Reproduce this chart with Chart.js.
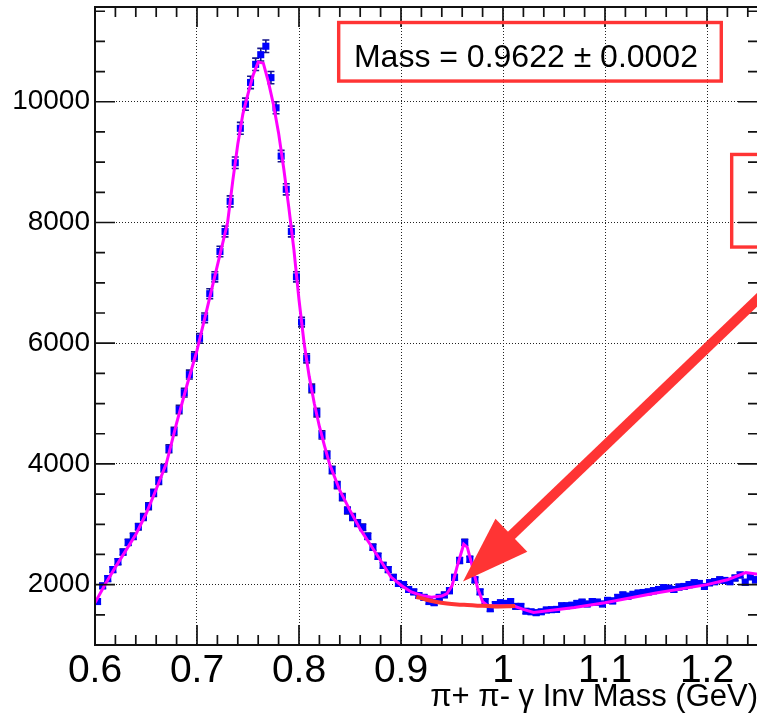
<!DOCTYPE html>
<html>
<head>
<meta charset="utf-8">
<script src="https://cdn.jsdelivr.net/npm/chart.js@4.4.1/dist/chart.umd.min.js"></script>
<style>
  html, body { margin:0; padding:0; overflow:hidden; background:#fff; }
  #wrap { width:770px; height:721px; }
</style>
</head>
<body>
<div id="wrap"><canvas id="c" width="770" height="721"></canvas></div>
<script>
// ---- data: invariant-mass histogram (bin centres, counts, errors) ----
const binCenters = [
  0.6025,0.6075,0.6125,0.6175,0.6225,0.6275,0.6325,0.6375,0.6425,0.6475,
  0.6525,0.6575,0.6625,0.6675,0.6725,0.6775,0.6825,0.6875,0.6925,0.6975,
  0.7025,0.7075,0.7125,0.7175,0.7225,0.7275,0.7325,0.7375,0.7425,0.7475,
  0.7525,0.7575,0.7625,0.7675,0.7725,0.7775,0.7825,0.7875,0.7925,0.7975,
  0.8025,0.8075,0.8125,0.8175,0.8225,0.8275,0.8325,0.8375,0.8425,0.8475,
  0.8525,0.8575,0.8625,0.8675,0.8725,0.8775,0.8825,0.8875,0.8925,0.8975,
  0.9025,0.9075,0.9125,0.9175,0.9225,0.9275,0.9325,0.9375,0.9425,0.9475,
  0.9525,0.9575,0.9625,0.9675,0.9725,0.9775,0.9825,0.9875,0.9925,0.9975,
  1.0025,1.0075,1.0125,1.0175,1.0225,1.0275,1.0325,1.0375,1.0425,1.0475,
  1.0525,1.0575,1.0625,1.0675,1.0725,1.0775,1.0825,1.0875,1.0925,1.0975,
  1.1025,1.1075,1.1125,1.1175,1.1225,1.1275,1.1325,1.1375,1.1425,1.1475,
  1.1525,1.1575,1.1625,1.1675,1.1725,1.1775,1.1825,1.1875,1.1925,1.1975,
  1.2025,1.2075,1.2125,1.2175,1.2225,1.2275,1.2325,1.2375,1.2425,1.2475
];
const counts = [
  1720,1980,2100,2250,2380,2540,2700,2800,2960,3120,
  3300,3520,3720,3930,4250,4540,4900,5180,5480,5780,
  6080,6420,6820,7100,7520,7850,8350,8990,9560,9960,
  10320,10620,10780,10920,10400,9900,9100,8550,7850,7100,
  6350,5750,5250,4850,4480,4150,3900,3650,3450,3230,
  3120,3020,2950,2800,2620,2470,2320,2250,2120,2020,
  2000,1920,1880,1820,1790,1720,1700,1790,1830,1900,
  2120,2400,2700,2420,2080,1880,1720,1600,1670,1700,
  1690,1720,1640,1640,1560,1550,1535,1550,1580,1585,
  1590,1650,1650,1660,1690,1710,1680,1720,1710,1680,
  1740,1730,1790,1830,1810,1840,1860,1870,1880,1900,
  1920,1950,1940,1920,1960,1970,2000,2030,2020,1970,
  2030,2050,2080,2070,2050,2110,2160,2040,2130,2080
];
const errors = [
  41,44,46,47,49,50,52,53,54,56,
  57,59,61,63,65,67,70,72,74,76,
  78,80,83,84,87,89,91,95,98,100,
  102,103,104,104,102,99,95,92,89,84,
  80,76,72,70,67,64,62,60,59,57,
  56,55,54,53,51,50,48,47,46,45,
  45,44,43,43,42,41,41,42,43,44,
  46,49,52,49,46,43,41,40,41,41,
  41,41,40,40,39,39,39,39,40,40,
  40,41,41,41,41,41,41,41,41,41,
  42,42,42,43,43,43,43,43,43,44,
  44,44,44,44,44,44,45,45,45,44,
  45,45,46,45,45,46,46,45,46,46
];
// ---- total fit (magenta) ----
const fitMass = [0.600,0.610,0.620,0.630,0.640,0.650,0.660,0.670,0.680,0.690,0.700,0.710,0.720,0.730,
  0.735,0.740,0.745,0.750,0.755,0.760,0.765,0.770,0.775,0.780,0.785,0.790,0.795,0.800,0.805,0.810,0.815,0.820,0.825,0.830,
  0.840,0.850,0.860,0.870,0.880,0.890,0.900,0.910,0.920,0.930,0.940,
  0.945,0.950,0.955,0.9615,0.965,0.970,0.975,0.980,0.985,
  0.995,1.010,1.020,1.030,1.040,1.050,1.070,1.100,1.150,1.200,1.220,1.238,1.250];
const fitCounts = [1700,2005,2290,2560,2830,3170,3580,4010,4675,5295,5880,6580,7290,8000,
  8680,9300,9800,10130,10440,10660,10640,10330,9950,9480,8900,8250,7550,6720,6000,5450,5000,4620,4300,4000,
  3560,3230,2920,2660,2400,2130,1990,1880,1820,1790,1810,
  1850,1980,2300,2670,2620,2300,1950,1720,1650,
  1650,1650,1590,1540,1560,1580,1620,1700,1860,2000,2080,2200,2170];
// ---- background under the eta' peak (red) ----
const bkgMass = [0.915,0.925,0.935,0.945,0.955,0.965,0.975,0.985,0.995,1.005,1.012];
const bkgCounts = [1800,1750,1712,1688,1672,1662,1652,1645,1638,1640,1648];
// ---- axes ----
const xTicks = [0.6,0.7,0.8,0.9,1.0,1.1,1.2];
const xTickLabels = ['0.6','0.7','0.8','0.9','1','1.1','1.2'];
const yTicks = [2000,4000,6000,8000,10000];
const yTickLabels = ['2000','4000','6000','8000','10000'];
const xTitle = 'π+ π- γ Inv Mass (GeV)';
const massLabel = 'Mass = 0.9622 ± 0.0002';

// ---- annotation placement (in data units) ----
const massBox = {x0:0.8389, x1:1.2140, y0:11313, y1:10343, tx:1.0225, ty:10580};
const sideBox = {x0:1.2242, x1:1.32, y0:9127, y1:7593};
const arrow = {tipX:0.9608, tipY:2050, tailX:1.2814, tailY:7242};

const RED = '#ff3434';
const FONT = "'Liberation Sans', Arial, Helvetica, sans-serif";

const histData = binCenters.map((m,i)=>({x:m, y:counts[i]}));
const fitData = fitMass.map((m,i)=>({x:m, y:fitCounts[i]}));
const bkgData = bkgMass.map((m,i)=>({x:m, y:bkgCounts[i]}));

const errBars = {
  id:'errBars',
  beforeDatasetDraw(chart, args){
    if (args.index !== 0) return;
    const {ctx, chartArea:a} = chart;
    const ys = chart.scales.y;
    const meta = chart.getDatasetMeta(0);
    ctx.save();
    ctx.beginPath(); ctx.rect(a.left, a.top, a.right-a.left, a.bottom-a.top); ctx.clip();
    ctx.strokeStyle = '#16168a'; ctx.lineWidth = 1.6;
    meta.data.forEach((pt,i)=>{
      const t = ys.getPixelForValue(counts[i]+errors[i]);
      const b = ys.getPixelForValue(counts[i]-errors[i]);
      ctx.beginPath();
      ctx.moveTo(pt.x, t); ctx.lineTo(pt.x, b);
      ctx.moveTo(pt.x-3.5, t); ctx.lineTo(pt.x+3.5, t);
      ctx.moveTo(pt.x-3.5, b); ctx.lineTo(pt.x+3.5, b);
      ctx.stroke();
    });
    ctx.restore();
  }
};

const frame = {
  id:'frame',
  afterDatasetsDraw(chart){
    const {ctx, chartArea:a, scales:{x, y}} = chart;
    ctx.save();
    ctx.strokeStyle = '#111';
    ctx.lineWidth = 2;
    ctx.strokeRect(a.left, a.top, a.right-a.left, a.bottom-a.top);
    ctx.lineWidth = 1.7;
    ctx.beginPath();
    for (let k=0; k<=32; k++){
      const px = x.getPixelForValue(0.6 + 0.02*k);
      const len = (k%5===0) ? 20 : 10;
      ctx.moveTo(px, a.bottom); ctx.lineTo(px, a.bottom-len);
      ctx.moveTo(px, a.top); ctx.lineTo(px, a.top+len);
    }
    for (let k=0; k<=21; k++){
      const v = 1000 + 500*k;
      const py = y.getPixelForValue(v);
      const len = (v%2000===0) ? 20 : 10;
      ctx.moveTo(a.left, py); ctx.lineTo(a.left+len, py);
      ctx.moveTo(a.right, py); ctx.lineTo(a.right-len, py);
    }
    ctx.stroke();
    ctx.restore();
  }
};

const annot = {
  id:'annot',
  afterDraw(chart){
    const {ctx, scales:{x, y}} = chart;
    ctx.save();
    ctx.strokeStyle = RED; ctx.fillStyle = RED; ctx.lineWidth = 3.4;
    let l = x.getPixelForValue(massBox.x0), r = x.getPixelForValue(massBox.x1);
    let t = y.getPixelForValue(massBox.y0), b = y.getPixelForValue(massBox.y1);
    ctx.strokeRect(l, t, r-l, b-t);
    l = x.getPixelForValue(sideBox.x0); r = x.getPixelForValue(sideBox.x1);
    t = y.getPixelForValue(sideBox.y0); b = y.getPixelForValue(sideBox.y1);
    ctx.strokeRect(l, t, r-l, b-t);
    const tx = x.getPixelForValue(arrow.tipX), ty = y.getPixelForValue(arrow.tipY);
    const sx = x.getPixelForValue(arrow.tailX), sy = y.getPixelForValue(arrow.tailY);
    const L = Math.hypot(sx-tx, sy-ty);
    const ux = (sx-tx)/L, uy = (sy-ty)/L;
    const nx = -uy, ny = ux;
    const hl = 67, hw = 23;
    const bx = tx + ux*hl, by = ty + uy*hl;
    ctx.lineWidth = 10; ctx.lineCap = 'butt';
    ctx.beginPath(); ctx.moveTo(tx + ux*(hl-4), ty + uy*(hl-4)); ctx.lineTo(sx, sy); ctx.stroke();
    ctx.beginPath();
    ctx.moveTo(tx, ty);
    ctx.lineTo(bx + nx*hw, by + ny*hw);
    ctx.lineTo(bx - nx*hw, by - ny*hw);
    ctx.closePath(); ctx.fill();
    ctx.fillStyle = '#000';
    ctx.font = '32px ' + FONT;
    ctx.textAlign = 'center'; ctx.textBaseline = 'alphabetic';
    ctx.fillText(massLabel, x.getPixelForValue(massBox.tx), y.getPixelForValue(massBox.ty));
    ctx.restore();
  }
};

new Chart(document.getElementById('c'), {
  type: 'scatter',
  data: {
    datasets: [
      {label:'data', data:histData, pointStyle:'rect', pointRadius:5, pointHoverRadius:5,
       backgroundColor:'#0000ff', borderColor:'#0000ff', borderWidth:0, showLine:false, order:3},
      {label:'fit', type:'line', data:fitData, borderColor:'#ff00ff', borderWidth:3,
       pointRadius:0, tension:0, fill:false, order:2},
      {label:'background', type:'line', data:bkgData, borderColor:RED, borderWidth:4,
       pointRadius:0, tension:0.3, fill:false, order:1}
    ]
  },
  options: {
    responsive:false, animation:false, devicePixelRatio:1,
    layout:{padding:{top:7, right:12, left:0, bottom:0}},
    plugins:{legend:{display:false}, tooltip:{enabled:false}},
    scales:{
      x:{
        type:'linear', min:0.6, max:1.25,
        afterBuildTicks: s => { s.ticks = xTicks.map(v=>({value:v})); },
        afterFit: s => { s.height = 76; s.paddingLeft = 0; s.paddingRight = 0; },
        ticks:{callback:(v,i)=>xTickLabels[i], color:'#000', padding:3,
               font:{family:FONT, size:39}, maxRotation:0, autoSkip:false},
        grid:{color:'#222', lineWidth:1, drawTicks:false},
        border:{display:false, dash:[1,2]},
        title:{display:true, text:xTitle, align:'end', color:'#000',
               font:{family:FONT, size:31}, padding:{top:0, bottom:5}}
      },
      y:{
        type:'linear', min:1000, max:11570,
        afterBuildTicks: s => { s.ticks = yTicks.map(v=>({value:v})); },
        afterFit: s => { s.width = 95; s.paddingTop = 0; s.paddingBottom = 0; },
        ticks:{callback:(v,i)=>yTickLabels[i], color:'#000', padding:5,
               font:{family:FONT, size:28}},
        grid:{color:'#222', lineWidth:1, drawTicks:false},
        border:{display:false, dash:[1,2]}
      }
    }
  },
  plugins:[errBars, frame, annot]
});
</script>
</body>
</html>
